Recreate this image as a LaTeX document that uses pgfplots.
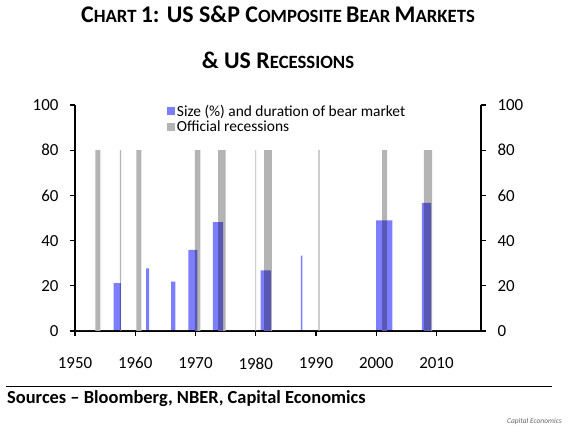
\documentclass[border=0pt]{standalone}
\usepackage{pgfplots}
\pgfplotsset{compat=1.18}
\usepackage{fontspec}
\setmainfont{Carlito}
\definecolor{recgray}{RGB}{180,180,180}
\definecolor{bearblue}{RGB}{125,125,255}
\newcommand\BC{\fontsize{24}{24}\selectfont}
\newcommand\SCs{\fontsize{18.8}{18.8}\selectfont}
\begin{document}
\begin{tikzpicture}[x=1bp,y=1bp]
\path (0,0) rectangle (574,437);
\begin{axis}[
  at={(75bp,106bp)}, anchor=south west,
  scale only axis, width=406bp, height=226bp,
  xmin=1950, xmax=2017.4, ymin=0, ymax=100,
  axis x line*=bottom, axis y line*=left,
  axis line style={-, line width=1.3pt},
  tick style={line width=1.3pt, black},
  major tick length=5bp,
  tick align=outside,
  xtick={1950,1960,...,2010},
  ytick={0,20,...,100},
  xticklabel style={font=\fontsize{17}{17}\selectfont, yshift=-18bp},
  yticklabel style={font=\fontsize{17}{17}\selectfont, xshift=-8bp},
  /pgf/number format/1000 sep={},
  /pgf/number format/assume math mode=true,
  legend style={at={(0.226,1.005)}, anchor=north west, draw=none, fill=none,
    font=\fontsize{15.5}{15.5}\selectfont, row sep=1bp, inner sep=0pt,
    nodes={inner ysep=1bp, inner xsep=2bp}},
  legend cell align=left,
  reverse legend,
  legend image code/.code={\fill[#1] (0bp,-4bp) rectangle (8bp,4bp);},
]
\addplot[draw=none, fill=recgray, const plot] coordinates {
  (1950,0)
  (1953.4,80) (1954.2,0)
  (1957.45,80) (1957.65,0)
  (1960.2,80) (1961.0,0)
  (1969.9,80) (1970.8,0)
  (1973.75,80) (1975.0,0)
  (1979.95,80) (1980.05,0)
  (1981.4,80) (1982.7,0)
  (1990.4,80) (1990.6,0)
  (2001.0,80) (2001.8,0)
  (2007.9,80) (2009.3,0)
  (2017.4,0)
} \closedcycle;
\addlegendentry{Official recessions}
\addplot[draw=none, fill=bearblue, const plot, blend mode=multiply] coordinates {
  (1950,0)
  (1956.4,21.2) (1957.6,0)
  (1961.8,27.7) (1962.3,0)
  (1965.95,21.8) (1966.65,0)
  (1968.8,35.9) (1970.3,0)
  (1972.9,48.2) (1974.6,0)
  (1980.8,26.8) (1982.5,0)
  (1987.5,33.3) (1987.75,0)
  (2000.0,49.0) (2002.7,0)
  (2007.6,56.7) (2009.1,0)
  (2017.4,0)
} \closedcycle;
\addlegendentry{Size (\%) and duration of bear market}
\end{axis}
\begin{axis}[
  at={(75bp,106bp)}, anchor=south west,
  scale only axis, width=406bp, height=226bp,
  xmin=1950, xmax=2017.4, ymin=0, ymax=100,
  axis x line=none, axis y line*=right,
  axis line style={-, line width=1.3pt},
  tick style={line width=1.3pt, black},
  major tick length=5bp,
  tick align=outside,
  ytick={0,20,...,100},
  yticklabel style={font=\fontsize{17}{17}\selectfont, xshift=8bp},
  /pgf/number format/assume math mode=true,
]
\addplot[draw=none] coordinates {(1950,0)};
\end{axis}
% title
\node[font=\bfseries, anchor=base] at (278,414) {\BC C\SCs HART \BC 1: US S\&P C\SCs OMPOSITE \BC B\SCs EAR \BC M\SCs ARKETS};
\node[font=\bfseries, anchor=base] at (278,368) {\BC \& US R\SCs ECESSIONS};
% footer
\draw[line width=1.2pt] (6,50.5) -- (552,50.5);
\node[font=\bfseries\fontsize{18.5}{18.5}\selectfont, anchor=base west, inner sep=0pt] at (7,33) {Sources -- Bloomberg, NBER, Capital Economics};
\node[font=\itshape\fontsize{7.5}{7.5}\selectfont, anchor=base east, inner sep=0pt, text=black!60] at (562,13) {Capital Economics};
\end{tikzpicture}
\end{document}
